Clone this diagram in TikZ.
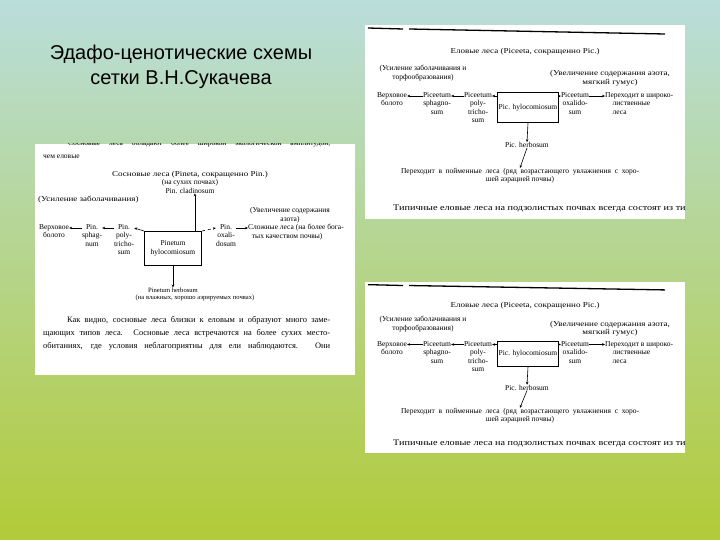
\documentclass[tikz,border=0pt]{standalone}
\usepackage{fontspec}
\setmainfont{Liberation Serif}
\newfontfamily\titlefont{Liberation Sans}
\newfontfamily\scanwide[FakeStretch=1.2]{Liberation Serif}
\usetikzlibrary{arrows.meta}

\definecolor{bgtop}{RGB}{185,222,219}
\definecolor{bgmid}{RGB}{198,221,170}
\definecolor{bgbot}{RGB}{178,203,56}

\tikzset{
  scan/.style={font=\fontsize{7.5}{8.5}\selectfont, inner sep=0pt, align=center},
  scansmall/.style={font=\fontsize{6.6}{8}\selectfont, inner sep=0pt, align=center},
  scanbig/.style={font=\scanwide\fontsize{8.5}{10}\selectfont, inner sep=0pt},
  scanpara/.style={font=\fontsize{8.4}{10}\selectfont, inner sep=0pt, anchor=west},
  arr/.style={-{Stealth[length=3pt,width=2.6pt]}, line width=0.6pt},
  mainbox/.style={draw, line width=0.9pt, inner sep=1pt, align=center,
    font=\fontsize{7.5}{8.5}\selectfont},
}

% one spruce scheme, drawn from the top left corner of its sheet
\newcommand{\sprucescheme}[1]{%
  \fill[white] (0,0) rectangle (320,194);
  \clip (0,0) rectangle (320,194);
  \draw[line width=1.3pt] (3,3) -- (38,4);
  \draw[line width=1.3pt] (44,4) -- (300,9);
  \begin{scope}[every node/.style={scan}]
    \node (ptitle) at (160,27) {\scanwide Еловые леса (Piceeta, сокращенно Pic.)};
    \node (pwet)   at (58,48)  {(Усиление заболачивания и\\торфообразования)};
    \node (prich)  at (245,53) {\scanwide (Увеличение содержания азота,\\\scanwide мягкий гумус)};
    \node[anchor=north] (pbog) at (27,67)  {Верховое\\болото};
    \node[anchor=north] (psph) at (72,67)  {Piceetum\\sphagno-\\sum};
    \node[anchor=north] (ppol) at (113,67) {Piceetum\\poly-\\tricho-\\sum};
    \node[anchor=north] (poxa) at (210,67) {Piceetum\\oxalido-\\sum};
    \node[anchor=north west, align=left] (pbroad) at (240,67) {Переходит в широко-\\\quad лиственные\\\quad леса};
    \node (pherb)  at (162,120) {Pic. herbosum};
    \node[anchor=north] (pflood) at (155,143) {\makebox[238pt][s]{Переходит в пойменные леса (ряд возрастающего увлажнения с хоро-}\\шей аэрацией почвы)};
  \end{scope}
  \node[mainbox, anchor=north, minimum width=50pt, minimum height=#1] (phyl) at (163,67) {Pic. hylocomiosum};
  \node[scanbig, anchor=west] (ptyp) at (28,184) {Типичные еловые леса на подзолистых почвах всегда состоят из типа};
  \draw[arr] ([yshift=-4pt]psph.north west) -- ([yshift=-4pt]pbog.north east);
  \draw[arr] ([yshift=-4pt]ppol.north west) -- ([yshift=-4pt]psph.north east);
  \draw[arr] ([yshift=-4pt]phyl.north west) -- ([yshift=-4pt]ppol.north east);
  \draw[arr] ([yshift=-4pt]phyl.north east) -- ([yshift=-4pt]poxa.north west);
  \draw[arr] ([yshift=-4pt]poxa.north east) -- ([yshift=-4pt]pbroad.north west);
  \draw[arr] (phyl.south) -- (pherb.north);
  \draw[arr] (pherb.south) -- (pflood.north);
}

\begin{document}
\begin{tikzpicture}[x=1pt,y=-1pt]
  \shade[top color=bgtop, middle color=bgmid, bottom color=bgbot] (0,0) rectangle (720,540);
  \useasboundingbox (0,0) rectangle (720,540);

  \node[font=\titlefont\fontsize{20}{25}\selectfont, align=center] (title) at (181,67)
    {Эдафо-ценотические схемы\\сетки В.Н.Сукачева};

  % pine scheme
  \begin{scope}
    \fill[white] (35,144) rectangle (355,375);
    \clip (35,144) rectangle (355,375);
    \begin{scope}[every node/.style={scan}]
      \node[anchor=base west] (ptop) at (68,146) {\makebox[262pt][s]{Сосновые леса обладают более широкой экологической амплитудой,}};
      \node[anchor=west] (pthan) at (43,157) {чем еловые};
      \node (pintitle) at (190,182) {\scanwide Сосновые леса (Pineta, сокращенно Pin.)\\(на сухих почвах)\\Pin. cladinosum};
      \node[anchor=west] (pinwet) at (38,200) {\scanwide (Усиление заболачивания)};
      \node (pinrich) at (290,215) {(Увеличение содержания\\азота)};
      \node[anchor=north] (pinbog) at (54,224)  {Верховое\\болото};
      \node[anchor=north] (pinsph) at (92,224)  {Pin.\\sphag-\\num};
      \node[anchor=north] (pinpol) at (124,224) {Pin.\\poly-\\tricho-\\sum};
      \node[anchor=north] (pinoxa) at (226,224) {Pin.\\oxali-\\dosum};
      \node[anchor=north west, align=left] (pincomp) at (248,224) {Сложные леса (на более бога-\\\enspace тых качеством почвы)};
    \end{scope}
    \begin{scope}[every node/.style={scansmall}]
      \node (pinherb) at (173,290) {Pinetum herbosum};
      \node (pinmoist) at (195,298) {(на влажных, хорошо аэрируемых почвах)};
    \end{scope}
    \node[mainbox, anchor=north, minimum width=57pt, minimum height=34pt] (pinhyl) at (173,231) {Pinetum\\hylocomiosum};
    \begin{scope}[every node/.style={scanpara}]
      \node (para1) at (67,320) {\makebox[263pt][s]{Как видно, сосновые леса близки к еловым и образуют много заме-}};
      \node (para2) at (43,333) {\makebox[287pt][s]{щающих типов леса. Сосновые леса встречаются на более сухих место-}};
      \node (para3) at (43,346) {\makebox[287pt][s]{обитаниях, где условия неблагоприятны для ели наблюдаются. Они}};
    \end{scope}
    \draw[arr] ([yshift=-4pt]pinsph.north west) -- ([yshift=-4pt]pinbog.north east);
    \draw[arr] ([yshift=-4pt]pinpol.north west) -- ([yshift=-4pt]pinsph.north east);
    \draw[arr] (pinhyl.north west) -- ([yshift=-4pt]pinpol.north east);
    \draw[arr, dashed] (pinhyl.north east) -- ([yshift=-4pt]pinoxa.north west);
    \draw[arr] ([yshift=-4pt]pinoxa.north east) -- ([yshift=-4pt]pincomp.north west);
    \draw[arr] ([xshift=-7pt]pinhyl.north east) -- ([xshift=-7pt]pinhyl.north east |- pintitle.south);
    \draw[arr] (pinhyl.south) -- (pinherb.north);
  \end{scope}

  % spruce scheme, top
  \begin{scope}[shift={(365,25)}]
    \sprucescheme{30pt}
  \end{scope}

  % spruce scheme, bottom
  \begin{scope}[shift={(365,282)}, yscale=0.88]
    \sprucescheme{25pt}
  \end{scope}
\end{tikzpicture}
\end{document}
